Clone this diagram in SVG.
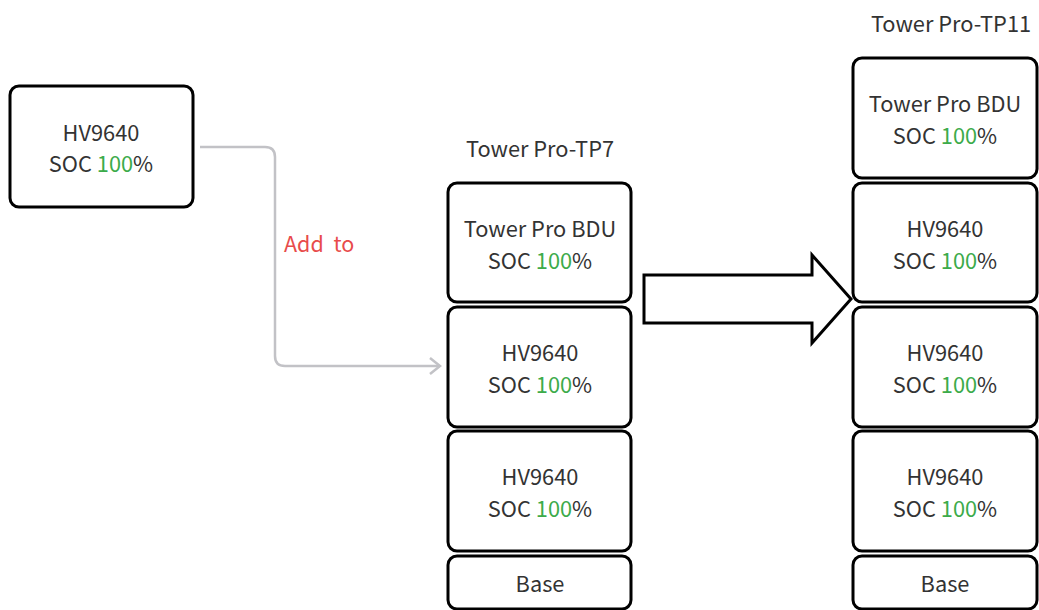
<svg xmlns="http://www.w3.org/2000/svg" width="1039" height="610" viewBox="0 0 1039 610">
<defs>
<style>
.box{fill:#fff;stroke:#000;stroke-width:3}
.t{font-family:"Noto Sans CJK SC","Noto Sans",sans-serif;font-size:21.8px;fill:#333;text-anchor:middle}
.g{fill:#3cab4a}
.conn{fill:none;stroke:#c2c2c6;stroke-width:2.5}
</style>
<marker id="chev" markerWidth="14" markerHeight="20" refX="12" refY="10" orient="auto" markerUnits="userSpaceOnUse">
<path d="M2,2 L12,10 L2,18" fill="none" stroke="#c2c2c6" stroke-width="2.5"/>
</marker>
</defs>
<rect width="1039" height="610" fill="#fff"/>
<g id="connectors">
<path class="conn" d="M200,147 H265 Q275,147 275,157 V356 Q275,366 285,366 H440" marker-end="url(#chev)"/>
<path d="M644,275 H812 V255 L851,299 L812,343 V323 H644 Z" fill="#fff" stroke="#000" stroke-width="3" stroke-linejoin="miter"/>
<text x="284" y="252" font-family="Noto Sans CJK SC,Noto Sans,sans-serif" font-size="21.5" word-spacing="5" fill="#e84b4b">Add to</text>
</g>
<g id="src">
<rect class="box" x="10" y="86" width="183" height="121" rx="9"/>
<text class="t" x="101" y="141">HV9640</text>
<text class="t" x="101" y="172">SOC <tspan class="g">100</tspan>%</text>
</g>
<g id="tp7-title"><text class="t" x="540" y="157">Tower Pro-TP7</text></g>
<g id="tp7-bdu">
<rect class="box" x="448" y="183" width="183" height="119" rx="9"/>
<text class="t" x="540" y="237">Tower Pro BDU</text>
<text class="t" x="540" y="269">SOC <tspan class="g">100</tspan>%</text>
</g>
<g id="tp7-hv1">
<rect class="box" x="448" y="307" width="183" height="120" rx="9"/>
<text class="t" x="540" y="361">HV9640</text>
<text class="t" x="540" y="393">SOC <tspan class="g">100</tspan>%</text>
</g>
<g id="tp7-hv2">
<rect class="box" x="448" y="431" width="183" height="120" rx="9"/>
<text class="t" x="540" y="485">HV9640</text>
<text class="t" x="540" y="517">SOC <tspan class="g">100</tspan>%</text>
</g>
<g id="tp7-base">
<rect class="box" x="448" y="556" width="183" height="53" rx="9"/>
<text class="t" x="540" y="592">Base</text>
</g>
<g id="tp11-title"><text class="t" x="951" y="32">Tower Pro-TP11</text></g>
<g id="tp11-bdu">
<rect class="box" x="853" y="58" width="184" height="120" rx="9"/>
<text class="t" x="945" y="112">Tower Pro BDU</text>
<text class="t" x="945" y="144">SOC <tspan class="g">100</tspan>%</text>
</g>
<g id="tp11-hv1">
<rect class="box" x="853" y="183" width="184" height="119" rx="9"/>
<text class="t" x="945" y="237">HV9640</text>
<text class="t" x="945" y="269">SOC <tspan class="g">100</tspan>%</text>
</g>
<g id="tp11-hv2">
<rect class="box" x="853" y="307" width="184" height="120" rx="9"/>
<text class="t" x="945" y="361">HV9640</text>
<text class="t" x="945" y="393">SOC <tspan class="g">100</tspan>%</text>
</g>
<g id="tp11-hv3">
<rect class="box" x="853" y="431" width="184" height="120" rx="9"/>
<text class="t" x="945" y="485">HV9640</text>
<text class="t" x="945" y="517">SOC <tspan class="g">100</tspan>%</text>
</g>
<g id="tp11-base">
<rect class="box" x="853" y="556" width="184" height="53" rx="9"/>
<text class="t" x="945" y="592">Base</text>
</g>
</svg>
